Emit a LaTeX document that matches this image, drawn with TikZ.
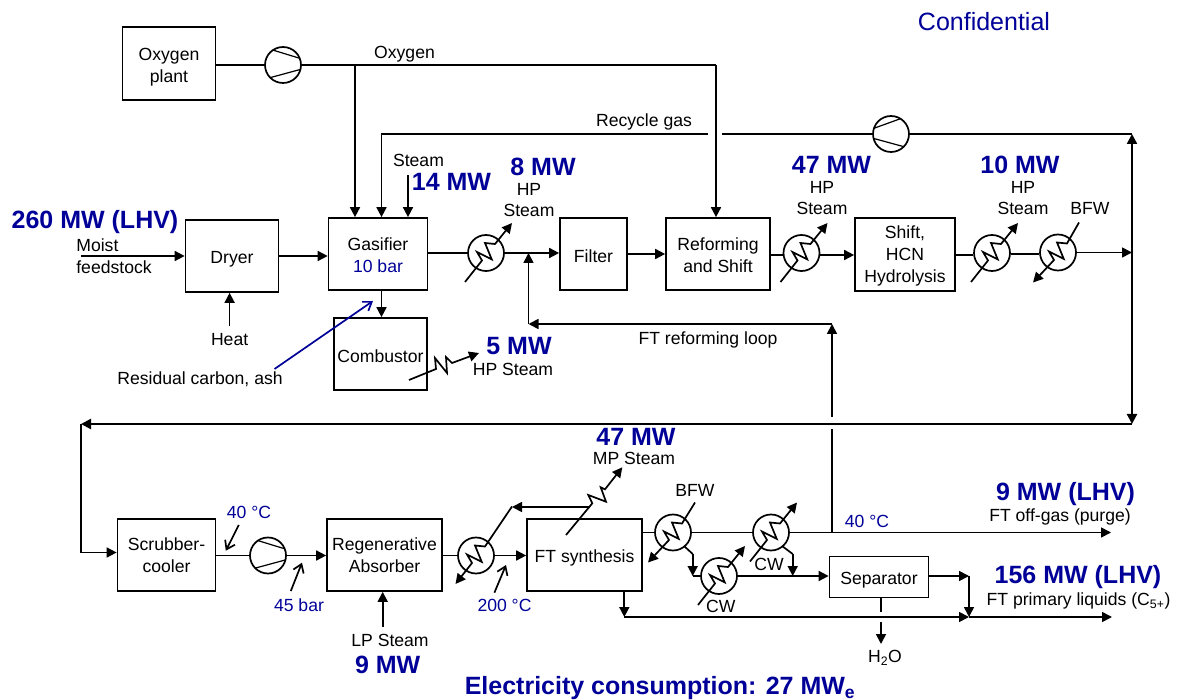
\documentclass[tikz,border=0pt]{standalone}
\usepackage{fontspec}
\setmainfont{Liberation Sans}
\usetikzlibrary{arrows.meta}

\definecolor{fluxblue}{RGB}{0,0,153}

% heat exchanger coil: node, arrow, lower end, upper end
\newcommand{\coil}[4]{%
  \draw [#2] ([shift={#3}]#1.center) -- ([shift={(-4,7.5)}]#1.center)
    -- ([shift={(-9,-1)}]#1.center) -- ([shift={(5.7,6.3)}]#1.center)
    -- ([shift={(-1,-10)}]#1.center) -- ([shift={(9,-9)}]#1.center)
    -- ([shift={#4}]#1.center);}

\begin{document}
\begin{tikzpicture}[x=1pt, y=-1pt, line width=1.7pt, >={Triangle[length=10pt,width=10pt]}]

    \tikzset{block/.style={%
      draw,%
      rectangle,%
      inner sep=0pt,%
      align=center,%
      execute at begin node={\rule{0pt}{18pt}},%
      font=\fontsize{17.6}{22}\selectfont}%
    };
    \tikzset{hex/.style={%
      draw,%
      circle,%
      inner sep=0pt,%
      minimum size=36pt}%
    };
    \tikzset{compfwd/.style={hex, path picture={%
      \draw [line width=1.2pt] ([shift={(-12,-15.5)}]path picture bounding box.center) -- ([shift={(19,-6)}]path picture bounding box.center);
      \draw [line width=1.2pt] ([shift={(-16,13.5)}]path picture bounding box.center) -- ([shift={(19,4)}]path picture bounding box.center);}}
    };
    \tikzset{comprev/.style={hex, path picture={%
      \draw [line width=1.2pt] ([shift={(10,-15.5)}]path picture bounding box.center) -- ([shift={(-19,-5)}]path picture bounding box.center);
      \draw [line width=1.2pt] ([shift={(14,13)}]path picture bounding box.center) -- ([shift={(-19,4)}]path picture bounding box.center);}}
    };
    \tikzset{lbl/.style={align=center, inner sep=0pt, font=\fontsize{17.6}{21.5}\selectfont}};
    \tikzset{bluelbl/.style={lbl, text=fluxblue}};
    \tikzset{power/.style={inner sep=0pt, text=fluxblue, font=\fontsize{25}{28}\selectfont\bfseries}};
    \tikzset{note/.style={-{Straight Barb[length=8pt,width=11pt]}}};
    \tikzset{main/.style={line width=2.2pt}};

    \useasboundingbox (0,0) rectangle (1181,700);

    %%%%%%%%%%%%
    % gasifier %
    %%%%%%%%%%%%
    \node [block, minimum width=93pt, minimum height=73pt] (oxyplant) at (169,63.5) {\rule{0pt}{19pt}Oxygen\\plant};
    \node [block, minimum width=93pt, minimum height=72pt] (dryer) at (232,256) {Dryer};
    \node [block, minimum width=99pt, minimum height=72pt] (gasifier) at (378,254) {\rule{0pt}{15pt}Gasifier\\\textcolor{fluxblue}{10 bar}};
    \node [block, minimum width=93pt, minimum height=72pt] (combustor) at (380.5,354) {Combustor};
    \node [block, minimum width=67pt, minimum height=72pt] (filter) at (593.5,254) {Filter};
    \node [block, minimum width=104pt, minimum height=72pt] (reforming) at (718,254) {\rule{0pt}{15pt}Reforming\\and Shift};
    \node [block, minimum width=100pt, minimum height=73pt] (shift) at (905,254.5) {\rule{0pt}{15pt}Shift,\\HCN\\Hydrolysis};

    \node [compfwd] (oxycomp) at (283,65) {};
    \node [comprev] (recycomp) at (891,134) {};
    \node [hex] (hxa) at (486,253) {};
    \node [hex] (hxb) at (801.5,253) {};
    \node [hex] (hxc) at (992,253) {};
    \node [hex] (hxd) at (1058,252.5) {};

    \coordinate (oxyjoin) at (355,65);
    \coordinate (oxyturn) at (716,65);
    \coordinate (recyturn) at (381.5,134);
    \coordinate (recygapl) at (708,134);
    \coordinate (recygapr) at (722,134);
    \coordinate (recyend) at (1132,134);
    \coordinate (steamtop) at (408,175);
    \coordinate (feedin) at (81,256);
    \coordinate (heatin) at (229.6,326);
    \coordinate (loopturn) at (528.5,324);
    \coordinate (looptop) at (832,324);
    \coordinate (loopbot) at (832,417);
    \coordinate (gasturn) at (1132,424);
    \coordinate (gasleft) at (81,424);
    \coordinate (scrubturn) at (81,552.5);

    \draw (oxyplant.east |- oxycomp) -- (oxycomp);
    \draw (oxycomp) -- (oxyturn);
    \draw [->] (oxyturn) -- (oxyturn |- reforming.north);
    \draw [->] (oxyjoin) -- (oxyjoin |- gasifier.north);
    \draw [->] (recygapl) -- (recyturn) -- (recyturn |- gasifier.north);
    \draw (recygapr) -- (recycomp);
    \draw (recycomp) -- (recyend);
    \draw [->] (steamtop) -- (steamtop |- gasifier.north);
    \draw [->] (feedin) -- (feedin -| dryer.west);
    \draw [->] (heatin) -- (heatin |- dryer.south);
    \draw [->] (dryer.east) -- (dryer.east -| gasifier.west);
    \draw [->] (recyturn |- gasifier.south) -- (recyturn |- combustor.north);
    \draw (gasifier.east |- hxa) -- (hxa);
    \draw [->] (hxa) -- (hxa -| filter.west);
    \draw [->] (filter.east) -- (reforming.west);
    \draw (reforming.east |- 0,255) -- (hxb.west |- 0,255);
    \draw [->] (hxb.east |- 0,255) -- (shift.west |- 0,255);
    \draw (shift.east |- 0,255) -- (hxc.west |- 0,255);
    \draw (hxc.east |- 0,254) -- (hxd.west |- 0,254);
    \draw [->] (hxd) -- (hxd -| gasturn);
    \draw [->] (loopbot) -- (looptop);
    \draw [->] (looptop) -- (loopturn);
    \draw [->] (loopturn) -- (loopturn |- hxa);
    \draw [main, <->] (recyend) -- (gasturn);
    \draw [main, ->] (gasturn) -- (gasleft);
    \draw (gasleft) -- (scrubturn);

    \coil{hxa}{->}{(-21,29)}{(26,-30)}
    \coil{hxb}{->}{(-21,29)}{(26,-30)}
    \coil{hxc}{->}{(-21,29)}{(26,-30)}
    \coil{hxd}{<-}{(-25,30)}{(21,-30)}

    \coordinate (combout) at (409,380);
    \coordinate (combmid) at (479,353);
    \draw [->] (combout) -- (436,369) -- (435,358) -- (447,373) -- (446,357) -- (452,363) -- (combmid);

    \coordinate (residue) at (274.5,369);
    \coordinate (residuetip) at (373,301);
    \draw [draw=fluxblue, note] (residue) -- (residuetip);

    \node [power] (pfeed) at (95,222.5) {260 MW (LHV)};
    \node [power] (psteam) at (451.5,181.5) {14 MW};
    \node [power] (phxa) at (543,167) {8 MW};
    \node [power] (pcomb) at (519,346) {5 MW};
    \node [power] (phxb) at (831.5,165) {47 MW};
    \node [power] (phxc) at (1020,165) {10 MW};
    \node [bluelbl, font=\fontsize{25}{28}\selectfont] (conf) at (984,22) {Confidential};

    \node [lbl] (loxy) at (404.5,54.5) {Oxygen};
    \node [lbl] (lrecy) at (644,122) {Recycle gas};
    \node [lbl] (lsteam) at (418.5,160.5) {Steam};
    \node [lbl] (lhxa) at (529,200) {HP\\Steam};
    \node [lbl, align=left, anchor=west] (lfeed) at (75.5,256) {Moist\\feedstock};
    \node [lbl] (lheat) at (229.6,340) {Heat};
    \node [lbl] (lres) at (200,379) {Residual carbon, ash};
    \node [lbl] (lcomb) at (513,369.5) {HP Steam};
    \node [lbl] (lloop) at (708,340) {FT reforming loop};
    \node [lbl] (lhxb) at (822,198) {HP\\Steam};
    \node [lbl] (lhxc) at (1023,198) {HP\\Steam};
    \node [lbl] (lbfwa) at (1090,208.5) {BFW};

    %%%%%%%%%%%%%
    % synthesis %
    %%%%%%%%%%%%%
    \node [block, minimum width=98pt, minimum height=72pt] (scrubber) at (166.5,555) {Scrubber-\\cooler};
    \node [block, minimum width=115pt, minimum height=72pt] (absorber) at (384.5,555) {Regenerative\\Absorber};
    \node [block, minimum width=115pt, minimum height=72pt] (ftsyn) at (584.5,555) {FT synthesis};
    \node [block, minimum width=99pt, minimum height=41pt] (separator) at (879,577) {Separator};

    \node [compfwd] (scrubcomp) at (268,555.5) {};
    \node [hex] (hxe) at (476,555.5) {};
    \node [hex] (hxf) at (673,532.5) {};
    \node [hex] (hxg) at (771,532.5) {};
    \node [hex] (hxh) at (719,576) {};

    \coordinate (lpin) at (382.7,627);
    \coordinate (mpturn) at (512,507);
    \coordinate (mpjoin) at (590,507);
    \coordinate (ftdrop) at (624.3,617);
    \coordinate (hxfout) at (684,546);
    \coordinate (hxfturn) at (692.7,554);
    \coordinate (hxhin) at (692.7,576);
    \coordinate (hxgout) at (782,546);
    \coordinate (hxgturn) at (792.7,554);
    \coordinate (hxgdrop) at (792.7,576);
    \coordinate (offtop) at (832,429);
    \coordinate (offjoin) at (832,532.5);
    \coordinate (offend) at (1111,532.5);
    \coordinate (septurn) at (969,576);
    \coordinate (liqjoin) at (969,617);
    \coordinate (liqend) at (1112,617);
    \coordinate (watertop) at (881,612);
    \coordinate (waterbot) at (881,622);
    \coordinate (waterend) at (881,644);

    \draw [->] (scrubturn) -- (scrubturn -| scrubber.west);
    \draw (scrubber.east |- scrubcomp) -- (scrubcomp);
    \draw [->] (scrubcomp) -- (scrubcomp -| absorber.west);
    \draw [->] (lpin) -- (lpin |- absorber.south);
    \draw (absorber.east |- hxe) -- (hxe);
    \draw [->] (hxe) -- (hxe -| ftsyn.west);
    \draw (ftsyn.east |- hxf) -- (hxf);
    \draw (hxf) -- (hxg);
    \draw [->] (hxg) -- (offend);
    \draw (offtop) -- (offjoin);
    \draw (hxfout) -- (hxfturn);
    \draw [->] (hxfturn) -- (hxhin);
    \draw (hxhin) -- (hxh);
    \draw (hxgout) -- (hxgturn);
    \draw [->] (hxgturn) -- (hxgdrop);
    \draw [->] (hxh) -- (hxh -| separator.west);
    \draw [->] (ftdrop |- ftsyn.south) -- (ftdrop);
    \draw [->] (ftdrop) -- (liqjoin);
    \draw [->] (liqjoin) -- (liqend);
    \draw [->] (separator.east |- septurn) -- (septurn);
    \draw [->] (septurn) -- (liqjoin);
    \draw (watertop |- separator.south) -- (watertop);
    \draw [->] (waterbot) -- (waterend);

    \coil{hxe}{<-}{(-20.5,28.5)}{(36,-49)}
    \coil{hxf}{<-}{(-25,30)}{(22,-30)}
    \coil{hxg}{->}{(-21,29)}{(26,-30)}
    \coil{hxh}{->}{(-21,29)}{(26,-30)}

    \draw [->] (mpjoin) -- (mpturn);

    \coordinate (mpout) at (566,535);
    \coordinate (mptip) at (622.3,467.3);
    \draw [->] (mpout) -- (592.3,503.3) -- (588.3,495) -- (606,501.7) -- (600.7,487.3) -- (605,489.3) -- (mptip);

    \coordinate (ntempa) at (238.8,525);
    \coordinate (ntempatip) at (225.8,550.7);
    \coordinate (nbar) at (290.8,591);
    \coordinate (nbartip) at (302,562.7);
    \coordinate (ntempb) at (494.4,592.7);
    \coordinate (ntempbtip) at (506,565);
    \draw [note] (ntempa) -- (ntempatip);
    \draw [note] (nbar) -- (nbartip);
    \draw [note] (ntempb) -- (ntempbtip);

    \node [power] (pmp) at (636,437) {47 MW};
    \node [power] (poff) at (1065.5,494.5) {9 MW (LHV)};
    \node [power] (pliq) at (1078,577.5) {156 MW (LHV)};
    \node [power] (plp) at (387.7,665) {9 MW};
    \node [power] (pelec) at (660,688) {Electricity consumption: 27 MW\textsubscript{e}};

    \node [bluelbl] (ltempa) at (249,512.5) {40 °C};
    \node [bluelbl] (lbar) at (299,605) {45 bar};
    \node [bluelbl] (ltempb) at (504.5,605) {200 °C};
    \node [bluelbl] (ltempc) at (867,521.5) {40 °C};
    \node [lbl] (llp) at (390,640) {LP Steam};
    \node [lbl] (lmp) at (634,458) {MP Steam};
    \node [lbl] (lbfwb) at (695,490) {BFW};
    \node [lbl] (lcwa) at (769,564) {CW};
    \node [lbl] (lcwb) at (720.7,606) {CW};
    \node [lbl] (loff) at (1060,517) {FT off-gas (purge)};
    \node [lbl] (lliq) at (1078.5,601) {FT primary liquids (C\textsubscript{5+})};
    \node [lbl] (lwater) at (885,658) {H\textsubscript{2}O};

\end{tikzpicture}
\end{document}
